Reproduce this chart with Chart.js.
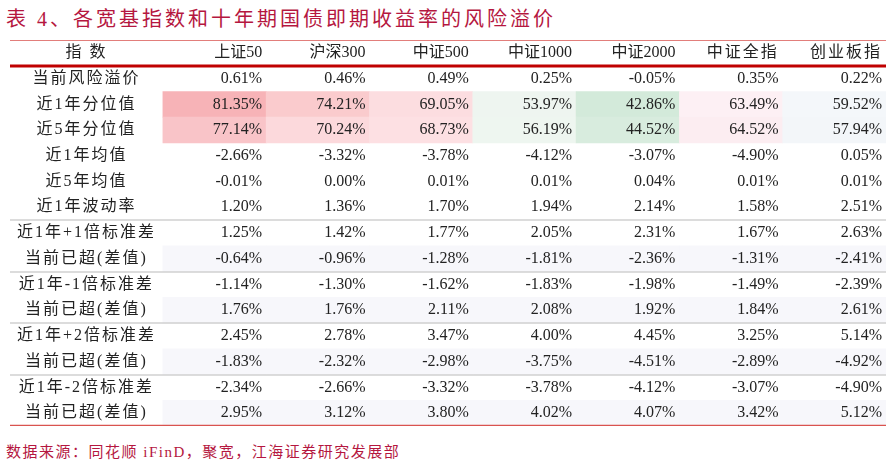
<!DOCTYPE html>
<html>
<head>
<meta charset="utf-8">
<script src="https://cdn.jsdelivr.net/npm/chart.js@4/dist/chart.umd.min.js"></script>
<style>
  body { margin: 0; background: #fff; width: 892px; height: 466px; position: relative; overflow: hidden; }
  #title { position: absolute; left: 6px; top: 3px; font: 20px "Liberation Serif", "Noto Sans CJK SC"; color: #b5173f; letter-spacing: 3px; }
  #src { position: absolute; left: 6px; top: 440px; font: 15px "Liberation Serif", "Noto Sans CJK SC"; color: #b5173f; letter-spacing: 1.5px; }
  #box { position: absolute; left: 10px; top: 40px; width: 876px; height: 386px; }
</style>
</head>
<body>
<div id="title">表 4、各宽基指数和十年期国债即期收益率的风险溢价</div>
<div id="box"><canvas id="c"></canvas></div>
<div id="src">数据来源：同花顺 iFinD，聚宽，江海证券研究发展部</div>
<script>
const columns = ['上证50', '沪深300', '中证500', '中证1000', '中证2000', '中证全指', '创业板指'];
const rowLabels = ['当前风险溢价', '近1年分位值', '近5年分位值', '近1年均值', '近5年均值', '近1年波动率',
  '近1年+1倍标准差', '当前已超(差值)', '近1年-1倍标准差', '当前已超(差值)',
  '近1年+2倍标准差', '当前已超(差值)', '近1年-2倍标准差', '当前已超(差值)'];
const values = [
  [0.61, 0.46, 0.49, 0.25, -0.05, 0.35, 0.22],
  [81.35, 74.21, 69.05, 53.97, 42.86, 63.49, 59.52],
  [77.14, 70.24, 68.73, 56.19, 44.52, 64.52, 57.94],
  [-2.66, -3.32, -3.78, -4.12, -3.07, -4.90, 0.05],
  [-0.01, 0.00, 0.01, 0.01, 0.04, 0.01, 0.01],
  [1.20, 1.36, 1.70, 1.94, 2.14, 1.58, 2.51],
  [1.25, 1.42, 1.77, 2.05, 2.31, 1.67, 2.63],
  [-0.64, -0.96, -1.28, -1.81, -2.36, -1.31, -2.41],
  [-1.14, -1.30, -1.62, -1.83, -1.98, -1.49, -2.39],
  [1.76, 1.76, 2.11, 2.08, 1.92, 1.84, 2.61],
  [2.45, 2.78, 3.47, 4.00, 4.45, 3.25, 5.14],
  [-1.83, -2.32, -2.98, -3.75, -4.51, -2.89, -4.92],
  [-2.34, -2.66, -3.32, -3.78, -4.12, -3.07, -4.90],
  [2.95, 3.12, 3.80, 4.02, 4.07, 3.42, 5.12]
];
const heatColors = {
  1: ['#f7b3b7', '#facbcd', '#fcdde0', '#eef5f0', '#d3eada', '#fdf0f4', '#f4f7fa'],
  2: ['#f9c4c8', '#fcd9dc', '#fde0e3', '#eef6f0', '#d8ecde', '#fcedf1', '#f3f6f9']
};
const shadeRows = [7, 9, 11, 13];
const sepAfter = [6, 8, 10, 12];

const LABEL_W = 1.48;
const colX0 = i => LABEL_W + i;

const cells = [], colors = [];
rowLabels.forEach((r, ri) => {
  columns.forEach((c, ci) => {
    let col = null;
    if (heatColors[ri]) col = heatColors[ri][ci];
    else if (shadeRows.includes(ri)) col = '#f7f7fb';
    if (col) { cells.push({ x: [colX0(ci), colX0(ci) + 1], y: ri + 1 }); colors.push(col); }
  });
});

const FONT = '16px "Liberation Serif", "Noto Sans CJK SC"';
const tablePlugin = {
  id: 'table',
  afterDatasetsDraw(chart) {
    const { ctx, scales: { x, y }, chartArea: a } = chart;
    ctx.save();
    ctx.font = FONT;
    ctx.fillStyle = '#222';
    ctx.textBaseline = 'middle';
    ctx.textAlign = 'center';
    ctx.letterSpacing = '2px';
    ctx.fillText('指 数', x.getPixelForValue(LABEL_W / 2), y.getPixelForValue(0));
    rowLabels.forEach((r, ri) => {
      ctx.fillText(r, x.getPixelForValue(LABEL_W / 2), y.getPixelForValue(ri + 1));
    });
    ctx.textAlign = 'right';
    columns.forEach((c, ci) => {
      ctx.letterSpacing = /\d/.test(c) ? '0px' : '2px';
      ctx.fillText(c, x.getPixelForValue(colX0(ci) + 1) - 4, y.getPixelForValue(0));
    });
    ctx.letterSpacing = '0px';
    values.forEach((row, ri) => {
      const py = y.getPixelForValue(ri + 1);
      row.forEach((v, ci) => {
        ctx.fillText(v.toFixed(2) + '%', x.getPixelForValue(colX0(ci) + 1) - 4, py);
      });
    });
    const hline = (yv, color, w) => {
      const py = Math.round(y.getPixelForValue(yv));
      ctx.strokeStyle = color; ctx.lineWidth = w;
      ctx.beginPath(); ctx.moveTo(a.left, py); ctx.lineTo(a.right, py); ctx.stroke();
    };
    hline(-0.5, '#d9534f', 1.5);
    hline(0.5, '#c00000', 3);
    sepAfter.forEach(r => hline(r + 0.5, '#d0d0d0', 1.5));
    hline(rowLabels.length + 0.5, '#d9534f', 2.5);
    ctx.restore();
  }
};

new Chart(document.getElementById('c'), {
  type: 'bar',
  data: { datasets: [{ data: cells, backgroundColor: colors, barPercentage: 1, categoryPercentage: 1 }] },
  options: {
    indexAxis: 'y',
    responsive: true,
    maintainAspectRatio: false,
    animation: false,
    layout: { padding: 0 },
    plugins: { legend: { display: false }, tooltip: { enabled: false } },
    scales: {
      x: { type: 'linear', min: 0, max: LABEL_W + columns.length, display: false, offset: false },
      y: { type: 'linear', min: -0.5, max: rowLabels.length + 0.5, reverse: true, display: false, offset: false }
    }
  },
  plugins: [tablePlugin]
});
</script>
</body>
</html>
